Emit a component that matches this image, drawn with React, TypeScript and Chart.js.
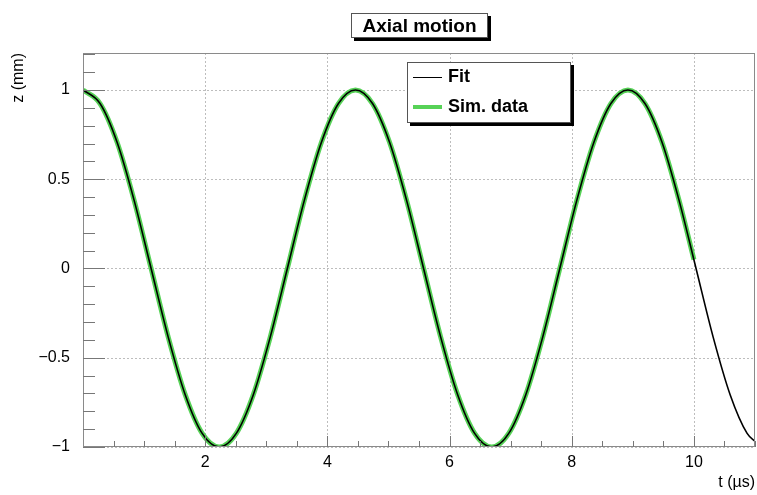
import React, { useEffect, useRef } from "react";
import { Chart, registerables } from "chart.js";

Chart.register(...registerables);

// Time samples (µs) and z values (mm)
const fitT = [0, 0.279, 0.558, 0.836, 1.115, 1.394, 1.673, 1.951, 2.23, 2.509, 2.788, 3.066, 3.345, 3.624, 3.903, 4.181, 4.46, 4.739, 5.018, 5.296, 5.575, 5.854, 6.133, 6.411, 6.69, 6.969, 7.248, 7.526, 7.805, 8.084, 8.363, 8.641, 8.92, 9.199, 9.478, 9.756, 10.035, 10.314, 10.593, 10.871, 11];
const fitZ = [1, 0.924, 0.707, 0.383, 0, -0.383, -0.707, -0.924, -1, -0.924, -0.707, -0.383, 0, 0.383, 0.707, 0.924, 1, 0.924, 0.707, 0.383, 0, -0.383, -0.707, -0.924, -1, -0.924, -0.707, -0.383, 0, 0.383, 0.707, 0.924, 1, 0.924, 0.707, 0.383, 0, -0.383, -0.707, -0.924, -0.968];

const simT = [0, 0.279, 0.558, 0.836, 1.115, 1.394, 1.673, 1.951, 2.23, 2.509, 2.788, 3.066, 3.345, 3.624, 3.903, 4.181, 4.46, 4.739, 5.018, 5.296, 5.575, 5.854, 6.133, 6.411, 6.69, 6.969, 7.248, 7.526, 7.805, 8.084, 8.363, 8.641, 8.92, 9.199, 9.478, 9.756, 10];
const simZ = [1, 0.924, 0.707, 0.383, 0, -0.383, -0.707, -0.924, -1, -0.924, -0.707, -0.383, 0, 0.383, 0.707, 0.924, 1, 0.924, 0.707, 0.383, 0, -0.383, -0.707, -0.924, -1, -0.924, -0.707, -0.383, 0, 0.383, 0.707, 0.924, 1, 0.924, 0.707, 0.383, 0.05];

const xMajor = [2, 4, 6, 8, 10];
const yMajor = [-1, -0.5, 0, 0.5, 1];
const xMinorStep = 0.5;
const yMinorStep = 0.1;

const TITLE = "Axial motion";
const X_TITLE = "t (\u00b5s)";
const Y_TITLE = "z (mm)";
const LEGEND = ["Fit", "Sim. data"];

const GREEN = "#57d257";
const FONT = "'Liberation Sans', Arial, sans-serif";

const fmt = (v: number) => {
  const s = String(Math.abs(v));
  return v < 0 ? "\u2212" + s : s;
};

const gridPlugin = {
  id: "dotgrid",
  beforeDatasetsDraw(chart: any) {
    const ctx = chart.ctx;
    const ca = chart.chartArea;
    const xs = chart.scales.x;
    const ys = chart.scales.y;
    ctx.save();
    ctx.strokeStyle = "#bdbdbd";
    ctx.lineWidth = 1;
    ctx.setLineDash([2, 2]);
    xMajor.forEach((v) => {
      const px = Math.round(xs.getPixelForValue(v)) + 0.5;
      ctx.beginPath();
      ctx.moveTo(px, ca.top);
      ctx.lineTo(px, ca.bottom);
      ctx.stroke();
    });
    yMajor.forEach((v) => {
      const py = Math.round(ys.getPixelForValue(v)) + 0.5;
      ctx.beginPath();
      ctx.moveTo(ca.left, py);
      ctx.lineTo(ca.right, py);
      ctx.stroke();
    });
    ctx.restore();
  },
};

const decorPlugin = {
  id: "decor",
  afterDraw(chart: any) {
    const ctx = chart.ctx;
    const ca = chart.chartArea;
    const xs = chart.scales.x;
    const ys = chart.scales.y;
    ctx.save();
    // frame
    ctx.strokeStyle = "#8a8a8a";
    ctx.lineWidth = 1;
    ctx.strokeRect(ca.left + 0.5, ca.top + 0.5, ca.right - ca.left - 1, ca.bottom - ca.top - 1);
    // x ticks
    ctx.strokeStyle = "#777";
    for (let i = 1; i * xMinorStep < xs.max + 1e-9; i++) {
      const v = i * xMinorStep;
      const major = xMajor.some((m) => Math.abs(m - v) < 1e-6);
      const px = Math.round(xs.getPixelForValue(v)) + 0.5;
      const len = major ? 11 : 6;
      ctx.beginPath();
      ctx.moveTo(px, ca.bottom);
      ctx.lineTo(px, ca.bottom - len);
      ctx.stroke();
    }
    // y ticks
    for (let i = -10; i * yMinorStep < ys.max + 1e-9; i++) {
      const v = i * yMinorStep;
      const major = yMajor.some((m) => Math.abs(m - v) < 1e-6);
      const py = Math.round(ys.getPixelForValue(v)) + 0.5;
      const len = major ? 22 : 12;
      ctx.beginPath();
      ctx.moveTo(ca.left, py);
      ctx.lineTo(ca.left + len, py);
      ctx.stroke();
    }
    // axis titles
    ctx.fillStyle = "#000";
    ctx.font = "16px " + FONT;
    ctx.textAlign = "right";
    ctx.textBaseline = "middle";
    ctx.fillText(X_TITLE, ca.right, 483);
    ctx.save();
    ctx.translate(19, ca.top);
    ctx.rotate(-Math.PI / 2);
    ctx.textAlign = "right";
    ctx.fillText(Y_TITLE, 0, 0);
    ctx.restore();

    // title box
    const tb = { x: 351, y: 13, w: 137, h: 25 };
    ctx.fillStyle = "#000";
    ctx.fillRect(tb.x + 3, tb.y + 3, tb.w, tb.h);
    ctx.fillStyle = "#fff";
    ctx.fillRect(tb.x, tb.y, tb.w, tb.h);
    ctx.strokeStyle = "#555";
    ctx.strokeRect(tb.x + 0.5, tb.y + 0.5, tb.w - 1, tb.h - 1);
    ctx.fillStyle = "#000";
    ctx.font = "bold 19px " + FONT;
    ctx.textAlign = "center";
    ctx.textBaseline = "middle";
    ctx.fillText(TITLE, tb.x + tb.w / 2, tb.y + tb.h / 2 + 1);

    // legend box
    const lb = { x: 407, y: 62, w: 164, h: 61 };
    ctx.fillStyle = "#000";
    ctx.fillRect(lb.x + 3, lb.y + 3, lb.w, lb.h);
    ctx.fillStyle = "#fff";
    ctx.fillRect(lb.x, lb.y, lb.w, lb.h);
    ctx.strokeStyle = "#555";
    ctx.strokeRect(lb.x + 0.5, lb.y + 0.5, lb.w - 1, lb.h - 1);
    ctx.strokeStyle = "#000";
    ctx.lineWidth = 1;
    ctx.beginPath();
    ctx.moveTo(413, 77.5);
    ctx.lineTo(442, 77.5);
    ctx.stroke();
    ctx.strokeStyle = GREEN;
    ctx.lineWidth = 4;
    ctx.beginPath();
    ctx.moveTo(413, 107);
    ctx.lineTo(442, 107);
    ctx.stroke();
    ctx.fillStyle = "#000";
    ctx.font = "bold 18px " + FONT;
    ctx.textAlign = "left";
    ctx.textBaseline = "middle";
    ctx.fillText(LEGEND[0], 448, 77);
    ctx.fillText(LEGEND[1], 448, 107);
    ctx.restore();
  },
};

export default function App() {
  const ref = useRef<HTMLCanvasElement>(null);
  useEffect(() => {
    document.body.style.margin = "0";
    const fitData = fitT.map((t, i) => ({ x: t, y: fitZ[i] }));
    const simData = simT.map((t, i) => ({ x: t, y: simZ[i] }));
    const chart = new Chart(ref.current!, {
      type: "line",
      data: {
        datasets: [
          {
            label: LEGEND[0],
            data: fitData,
            borderColor: "#000",
            borderWidth: 1.6,
            pointRadius: 0,
            cubicInterpolationMode: "monotone",
            order: 0,
          },
          {
            label: LEGEND[1],
            data: simData,
            borderColor: GREEN,
            borderWidth: 5,
            pointRadius: 0,
            cubicInterpolationMode: "monotone",
            order: 1,
          },
        ],
      },
      options: {
        animation: false,
        responsive: false,
        maintainAspectRatio: false,
        layout: { padding: { top: 53, right: 2, left: 0, bottom: 0 } },
        plugins: { legend: { display: false }, tooltip: { enabled: false }, title: { display: false } },
        scales: {
          x: {
            type: "linear",
            min: 0,
            max: 11,
            afterFit: (s: any) => {
              s.height = 48;
            },
            afterBuildTicks: (s: any) => {
              s.ticks = xMajor.map((v) => ({ value: v }));
            },
            ticks: {
              padding: 6,
              color: "#000",
              font: { family: FONT, size: 16 },
              callback: (v: any) => fmt(Number(v)),
              maxRotation: 0,
              autoSkip: false,
            },
            grid: { display: false, drawTicks: false },
            border: { display: false },
          },
          y: {
            type: "linear",
            min: -1,
            max: 1.207,
            afterFit: (s: any) => {
              s.width = 83;
            },
            afterBuildTicks: (s: any) => {
              s.ticks = yMajor.map((v) => ({ value: v }));
            },
            ticks: {
              padding: 13,
              color: "#000",
              font: { family: FONT, size: 16 },
              callback: (v: any) => fmt(Number(v)),
              autoSkip: false,
            },
            grid: { display: false, drawTicks: false },
            border: { display: false },
          },
        },
      },
      plugins: [gridPlugin, decorPlugin],
    } as any);
    return () => chart.destroy();
  }, []);
  return (
    <div style={{ position: "absolute", left: 0, top: 0, width: 757, height: 495 }}>
      <canvas ref={ref} width={757} height={495} style={{ width: 757, height: 495 }} />
    </div>
  );
}
